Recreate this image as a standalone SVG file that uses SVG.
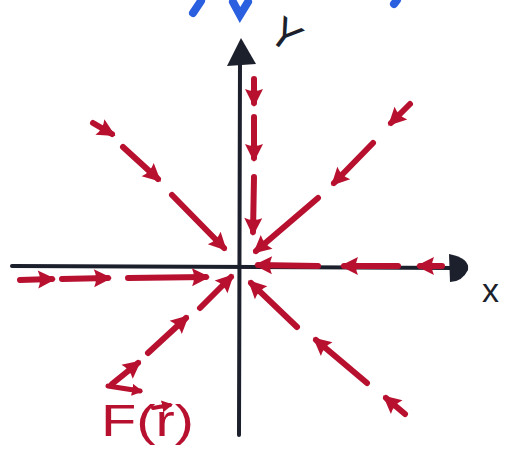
<svg xmlns="http://www.w3.org/2000/svg" width="519" height="450" viewBox="0 0 519 450">
<style>
.ax{stroke:#1c1f2c;stroke-width:4;fill:none;stroke-linecap:round}
.ar{stroke:#b8102f;stroke-width:6;fill:none;stroke-linecap:round;marker-end:url(#h)}
.lb{font-family:"Liberation Sans",Arial,sans-serif;fill:#1c1f2c}
.rl{font-family:"Liberation Sans",Arial,sans-serif;fill:#b8102f}
.bl{stroke:#2a5fe0;stroke-width:8;fill:none;stroke-linecap:round}
</style>
<defs>
<marker id="h" markerUnits="userSpaceOnUse" markerWidth="20" markerHeight="20" refX="15" refY="10" orient="auto">
<path d="M1,1 L19,10 L1,19 Q5,10 1,1 z" fill="#b8102f"/>
</marker>
<marker id="hs" markerUnits="userSpaceOnUse" markerWidth="12" markerHeight="12" refX="8" refY="6" orient="auto">
<path d="M0,0 L11,6 L0,12 z" fill="#b8102f"/>
</marker>
</defs>
<rect width="519" height="450" fill="#ffffff"/>
<g id="top-fragments">
<path class="bl" d="M201,1 L193,13"/>
<path class="bl" d="M233,2 L240,15 L248,2"/>
<path class="bl" d="M397,0 L394,4"/>
</g>
<g id="axes">
<path class="ax" d="M12,266 L455,268"/>
<path d="M449,254 Q470,258 468,270 Q462,282 450,282 Z" fill="#1c1f2c"/>
<path class="ax" d="M239,435 L240,58"/>
<path d="M227,66 L241,38 L256,64 Z" fill="#1c1f2c"/>
</g>
<g id="connectors">
<path class="ar" d="M93,123 L112,134"/>
<path class="ar" d="M123,147 L158,179"/>
<path class="ar" d="M172,195 L224,248"/>
<path class="ar" d="M410,104 L391,123"/>
<path class="ar" d="M373,143 L334,183"/>
<path class="ar" d="M318,198 L256,251"/>
<path class="ar" d="M254,79 L254,103"/>
<path class="ar" d="M254,117 L254,158"/>
<path class="ar" d="M254,177 L253,232"/>
<path class="ar" d="M20,280 L52,279"/>
<path class="ar" d="M62,279 L108,278"/>
<path class="ar" d="M128,278 L206,277"/>
<path class="ar" d="M442,266 L420,266"/>
<path class="ar" d="M398,266 L344,266"/>
<path class="ar" d="M318,266 L258,265"/>
<path class="ar" d="M200,308 L231,277"/>
<path class="ar" d="M148,353 L186,318"/>
<path class="ar" d="M112,384 L138,363"/>
<path class="ar" d="M297,327 L251,283"/>
<path class="ar" d="M367,383 L316,340"/>
<path class="ar" d="M405,414 L386,398"/>
</g>
<g id="label-y">
<text class="lb" x="0" y="0" font-size="42" transform="translate(266,38) rotate(36)">Y</text>
</g>
<g id="label-x">
<text class="lb" x="482" y="302" font-size="34">x</text>
</g>
<g id="label-F">
<path d="M108,386 L140,391" stroke="#b8102f" stroke-width="5" fill="none" stroke-linecap="round" marker-end="url(#hs)"/>
<path d="M153,408 L170,405" stroke="#b8102f" stroke-width="4" fill="none" stroke-linecap="round" marker-end="url(#hs)"/>
<text class="rl" x="101" y="436" font-size="44" textLength="93" lengthAdjust="spacingAndGlyphs">F(r)</text>
</g>
</svg>
